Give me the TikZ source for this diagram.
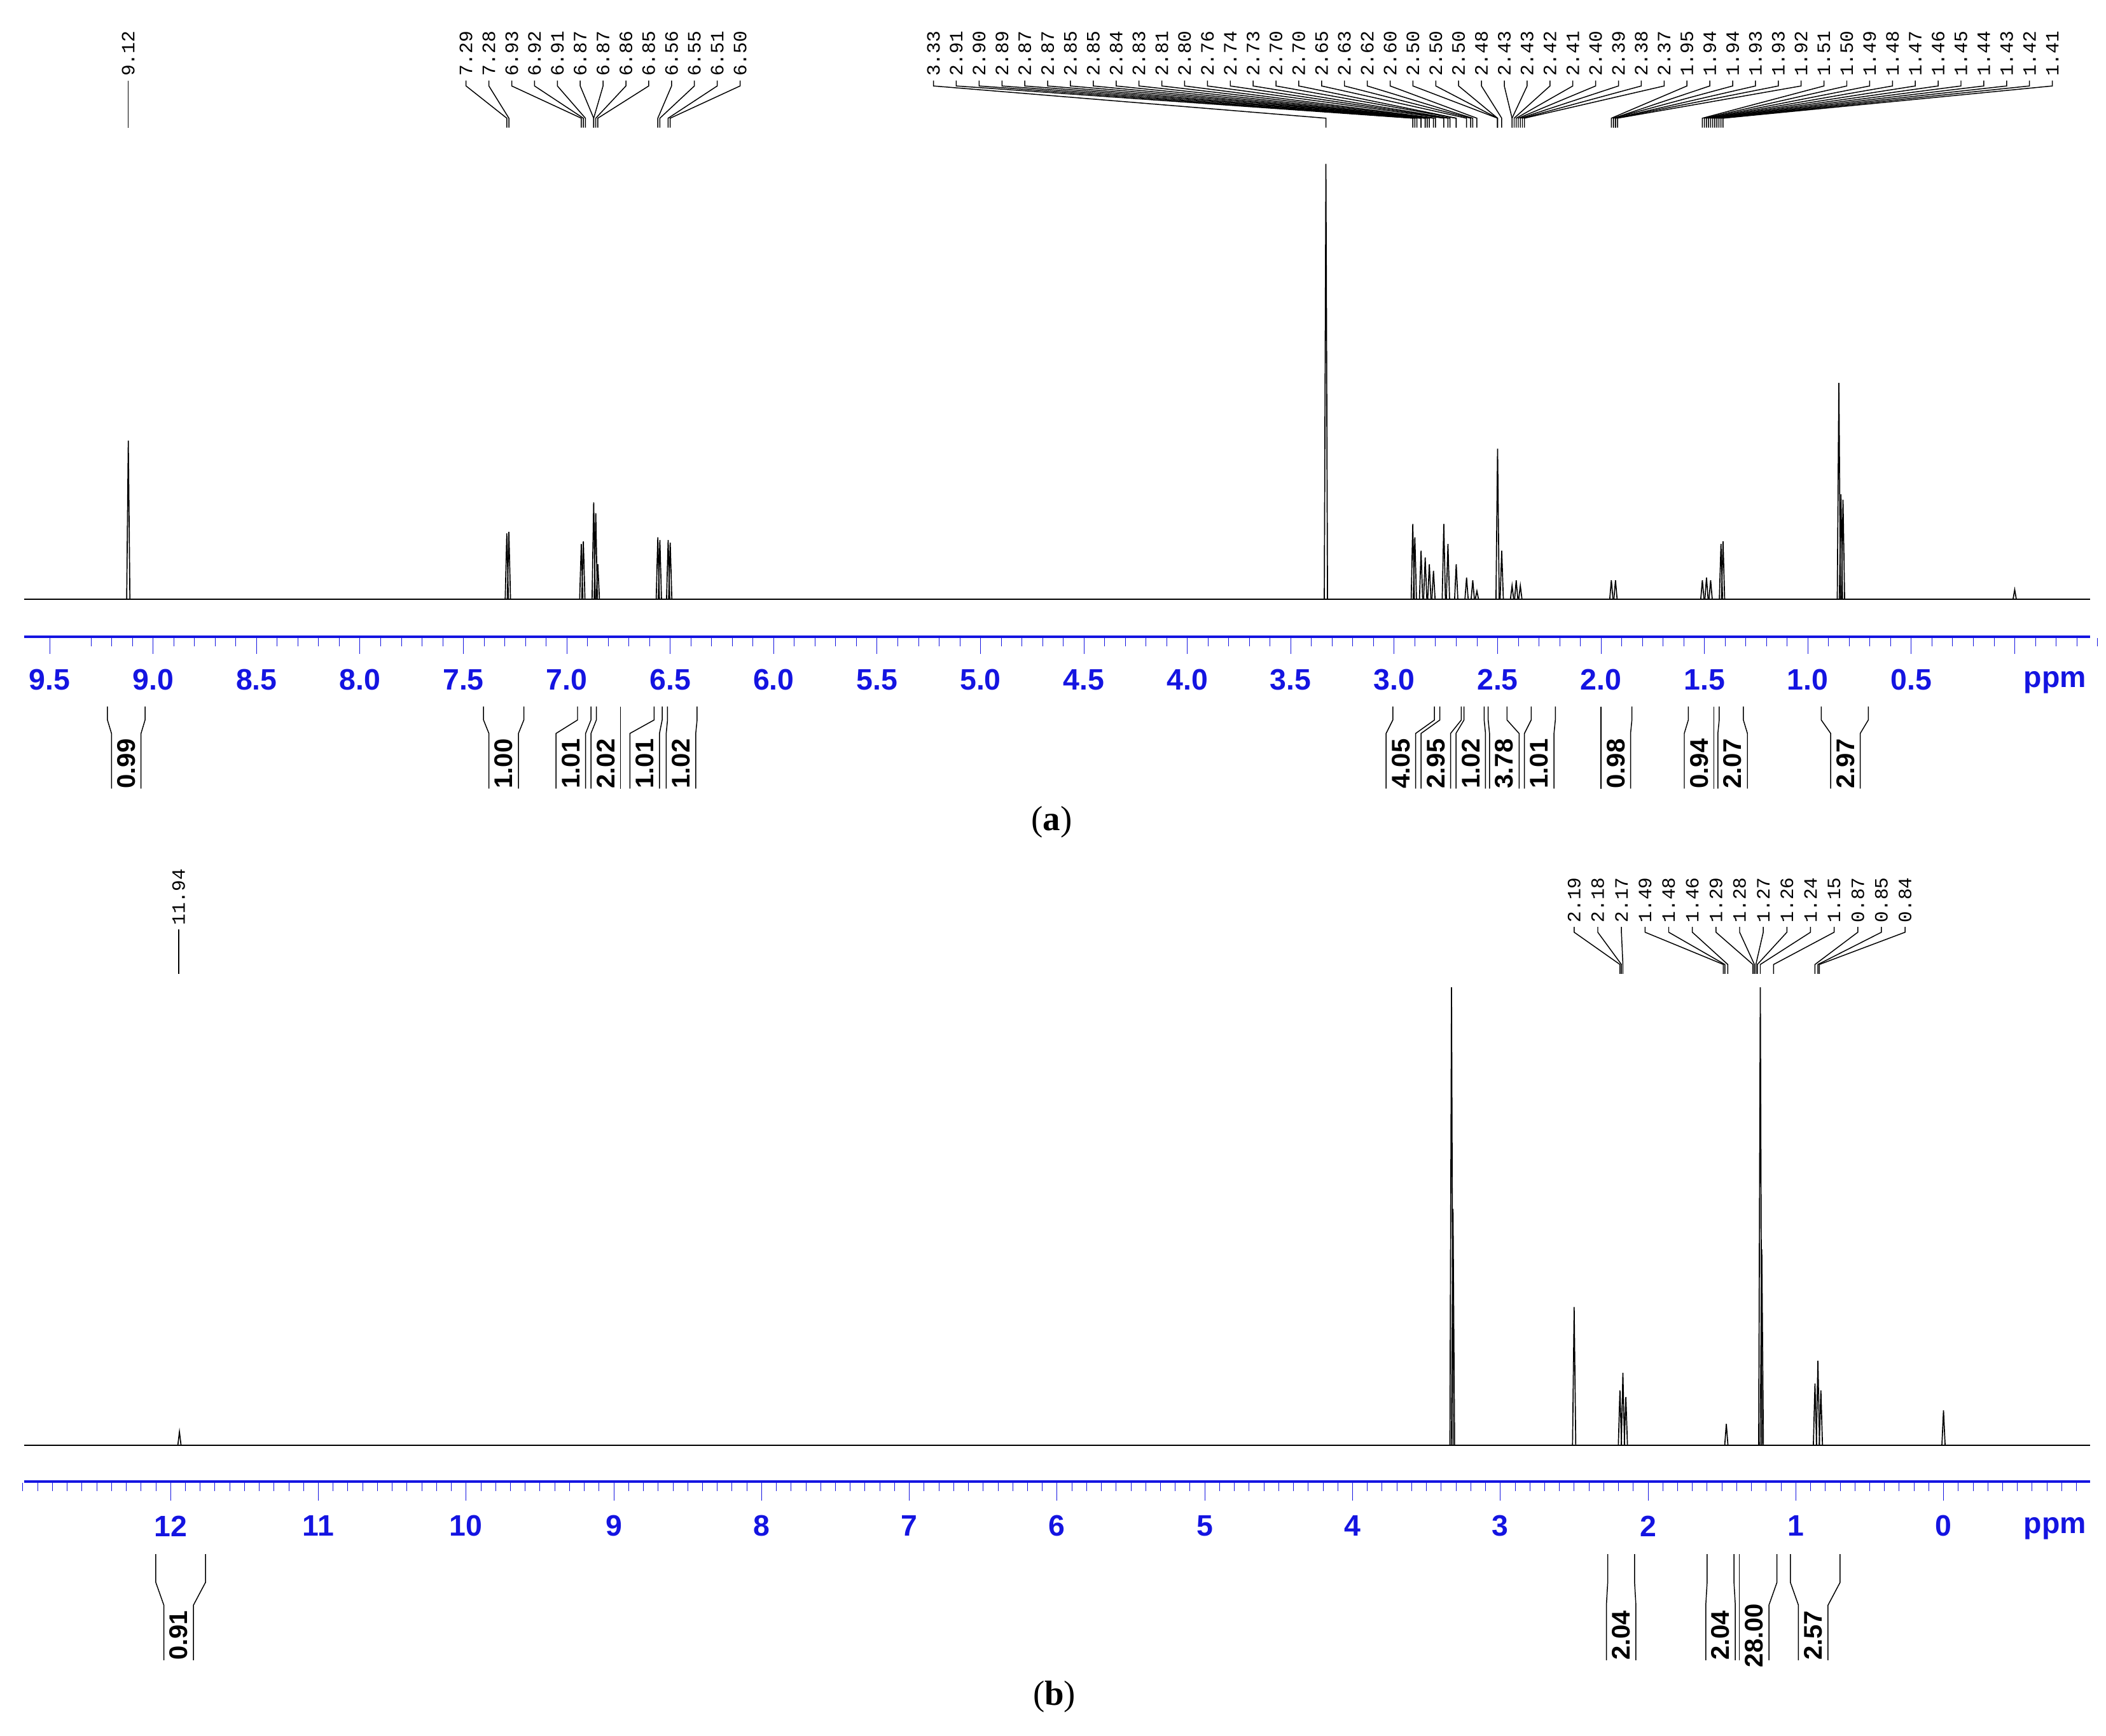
\documentclass[tikz,border=0pt]{standalone}
\usepackage{fontspec}
\setmainfont{Liberation Serif}
\newfontfamily\axf{Liberation Sans}
\newfontfamily\pkf{Liberation Mono}
\definecolor{axblue}{RGB}{20,20,225}
\newcommand\pka[2]{\draw[spec] ({1500-154*#1-1.2},446) -- ({1500-154*#1},#2) -- ({1500-154*#1+1.2},446);}
\newcommand\pkb[2]{\draw[spec] ({1447-110*#1-1.2},1076) -- ({1447-110*#1},#2) -- ({1447-110*#1+1.2},1076);}
% integral: a b labelx text ytop ybend1 ybend2 ybot
\newcommand\intg[8]{%
 \draw[lbl] (#1,#5) -- (#1,#6) -- ({#3-11},#7) -- ({#3-11},#8);
 \draw[lbl] (#2,#5) -- (#2,#6) -- ({#3+11},#7) -- ({#3+11},#8);
 \node[ilab] at (#3,{(#7+#8)/2+2}) {#4};}
\tikzset{spec/.style={line width=0.8pt,line join=miter},
 lbl/.style={line width=0.7pt},
 plab/.style={rotate=90,anchor=west,inner sep=0pt,font=\pkf\fontsize{14}{14}\selectfont},
 ilab/.style={rotate=90,inner sep=0pt,font=\axf\bfseries\fontsize{19}{19}\selectfont},
 tlab/.style={text=axblue,inner sep=0pt,font=\axf\bfseries\fontsize{22}{22}\selectfont},
 captxt/.style={inner sep=0pt,font=\fontsize{26}{26}\selectfont}}
\begin{document}
\begin{tikzpicture}[x=1pt,y=-1pt]
\useasboundingbox (0,0) rectangle (1568,1292);
% ===== panel (a) =====
\draw[spec] (18,446) -- (1556,446);
\pka{9.12}{328}
\pka{7.29}{397}\pka{7.28}{396}
\pka{6.93}{405}\pka{6.92}{403}\pka{6.87}{374}\pka{6.86}{382}\pka{6.85}{420}
\pka{6.56}{400}\pka{6.55}{402}\pka{6.51}{402}\pka{6.50}{404}
\pka{3.33}{122}
\pka{2.91}{390}\pka{2.90}{400}\pka{2.87}{410}\pka{2.85}{415}\pka{2.83}{420}\pka{2.81}{425}
\pka{2.76}{390}\pka{2.74}{405}\pka{2.70}{420}\pka{2.65}{430}\pka{2.62}{432}\pka{2.60}{440}
\pka{2.50}{334}\pka{2.48}{410}
\pka{2.43}{436}\pka{2.41}{432}\pka{2.39}{436}
\pka{1.95}{432}\pka{1.93}{432}
\pka{1.51}{432}\pka{1.49}{430}\pka{1.47}{432}\pka{1.42}{405}\pka{1.41}{403}
\pka{0.85}{285}\pka{0.84}{368}\pka{0.83}{372}
\pka{0.0}{439}
% peak labels (a)
\draw[lbl] (95.5,60) -- (95.5,95);
\node[plab] at (95.5,57) {9.12};
\foreach \p [count=\i] in {7.29,7.28,6.93,6.92,6.91,6.87,6.87,6.86,6.85,6.56,6.55,6.51,6.50}{
 \pgfmathsetmacro\xl{347+17*(\i-1)}
 \draw[lbl] (\xl,60) -- (\xl,64) -- ({1500-154*\p},88) -- ({1500-154*\p},95);
 \node[plab] at (\xl,57) {\p};}
\foreach \p [count=\i] in {3.33,2.91,2.90,2.89,2.87,2.87,2.85,2.85,2.84,2.83,2.81,2.80,2.76,2.74,2.73,2.70,2.70,2.65,2.63,2.62,2.60,2.50,2.50,2.50,2.48,2.43,2.43,2.42,2.41,2.40,2.39,2.38,2.37,1.95,1.94,1.94,1.93,1.93,1.92,1.51,1.50,1.49,1.48,1.47,1.46,1.45,1.44,1.43,1.42,1.41}{
 \pgfmathsetmacro\xl{695+17*(\i-1)}
 \draw[lbl] (\xl,60) -- (\xl,64) -- ({1500-154*\p},88) -- ({1500-154*\p},95);
 \node[plab] at (\xl,57) {\p};}
% axis (a)
\draw[axblue,line width=2pt] (18,474) -- (1556,474);
\foreach \k in {-6,...,93}{\draw[axblue,thin] ({1500-15.4*\k},475) -- ({1500-15.4*\k},481);}
\foreach \v in {9.5,9.0,8.5,8.0,7.5,7.0,6.5,6.0,5.5,5.0,4.5,4.0,3.5,3.0,2.5,2.0,1.5,1.0,0.5}{
 \draw[axblue,thin] ({1500-154*\v},475) -- ({1500-154*\v},487);
 \node[tlab] at ({1500-154*\v},506) {\v};}
\draw[axblue,thin] (1500,475) -- (1500,487);
\node[tlab] at (1530,508) {ppm};
% integrals (a)
\intg{80}{108}{94}{0.99}{526}{536}{546}{587}
\intg{360}{390}{375}{1.00}{526}{536}{546}{587}
\intg{430}{440}{425}{1.01}{526}{536}{546}{587}
\intg{444}{462}{451}{2.02}{526}{536}{546}{587}
\intg{487}{493}{480}{1.01}{526}{536}{546}{587}
\intg{497}{519}{507}{1.02}{526}{536}{546}{587}
\intg{1037}{1068}{1043}{4.05}{526}{536}{546}{587}
\intg{1072}{1088}{1069}{2.95}{526}{536}{546}{587}
\intg{1090}{1105}{1095}{1.02}{526}{536}{546}{587}
\intg{1108}{1122}{1120}{3.78}{526}{536}{546}{587}
\intg{1140}{1158}{1146}{1.01}{526}{536}{546}{587}
\intg{1192}{1215}{1203}{0.98}{526}{536}{546}{587}
\intg{1257}{1276}{1265}{0.94}{526}{536}{546}{587}
\intg{1280}{1298}{1290}{2.07}{526}{536}{546}{587}
\intg{1356}{1391}{1374}{2.97}{526}{536}{546}{587}
\node[captxt] (capa) at (783,612) {(\textbf{a})};
% ===== panel (b) =====
\draw[spec] (18,1076) -- (1556,1076);
\pkb{11.94}{1066}
\pkb{3.33}{735}\pkb{3.32}{900}
\pkb{2.50}{973}
\pkb{2.19}{1035}\pkb{2.17}{1022}\pkb{2.15}{1040}
\pkb{1.47}{1060}
\pkb{1.24}{735}\pkb{1.23}{930}
\pkb{0.87}{1030}\pkb{0.85}{1013}\pkb{0.83}{1035}
\pkb{0.0}{1050}
\draw[lbl] (133,692) -- (133,725);
\node[plab] at (133,689) {11.94};
\foreach \p [count=\i] in {2.19,2.18,2.17,1.49,1.48,1.46,1.29,1.28,1.27,1.26,1.24,1.15,0.87,0.85,0.84}{
 \pgfmathsetmacro\xl{1172+17.6*(\i-1)}
 \draw[lbl] (\xl,690) -- (\xl,694) -- ({1447-110*\p},718) -- ({1447-110*\p},725);
 \node[plab] at (\xl,687) {\p};}
\draw[axblue,line width=2pt] (18,1103) -- (1556,1103);
\foreach \k in {-9,...,130}{\draw[axblue,thin] ({1447-11*\k},1104) -- ({1447-11*\k},1110);}
\foreach \v in {12,11,10,9,8,7,6,5,4,3,2,1,0}{
 \draw[axblue,thin] ({1447-110*\v},1104) -- ({1447-110*\v},1117);
 \node[tlab] at ({1447-110*\v},1136) {\v};}
\node[tlab] at (1530,1138) {ppm};
\intg{116}{153}{133}{0.91}{1157}{1178}{1195}{1236}
\intg{1197}{1217}{1207}{2.04}{1157}{1178}{1195}{1236}
\intg{1271}{1291}{1281}{2.04}{1157}{1178}{1195}{1236}
\intg{1295}{1323}{1306}{28.00}{1157}{1178}{1195}{1236}
\intg{1333}{1370}{1350}{2.57}{1157}{1178}{1195}{1236}
\node[captxt] (capb) at (785,1263) {(\textbf{b})};
\end{tikzpicture}
\end{document}
